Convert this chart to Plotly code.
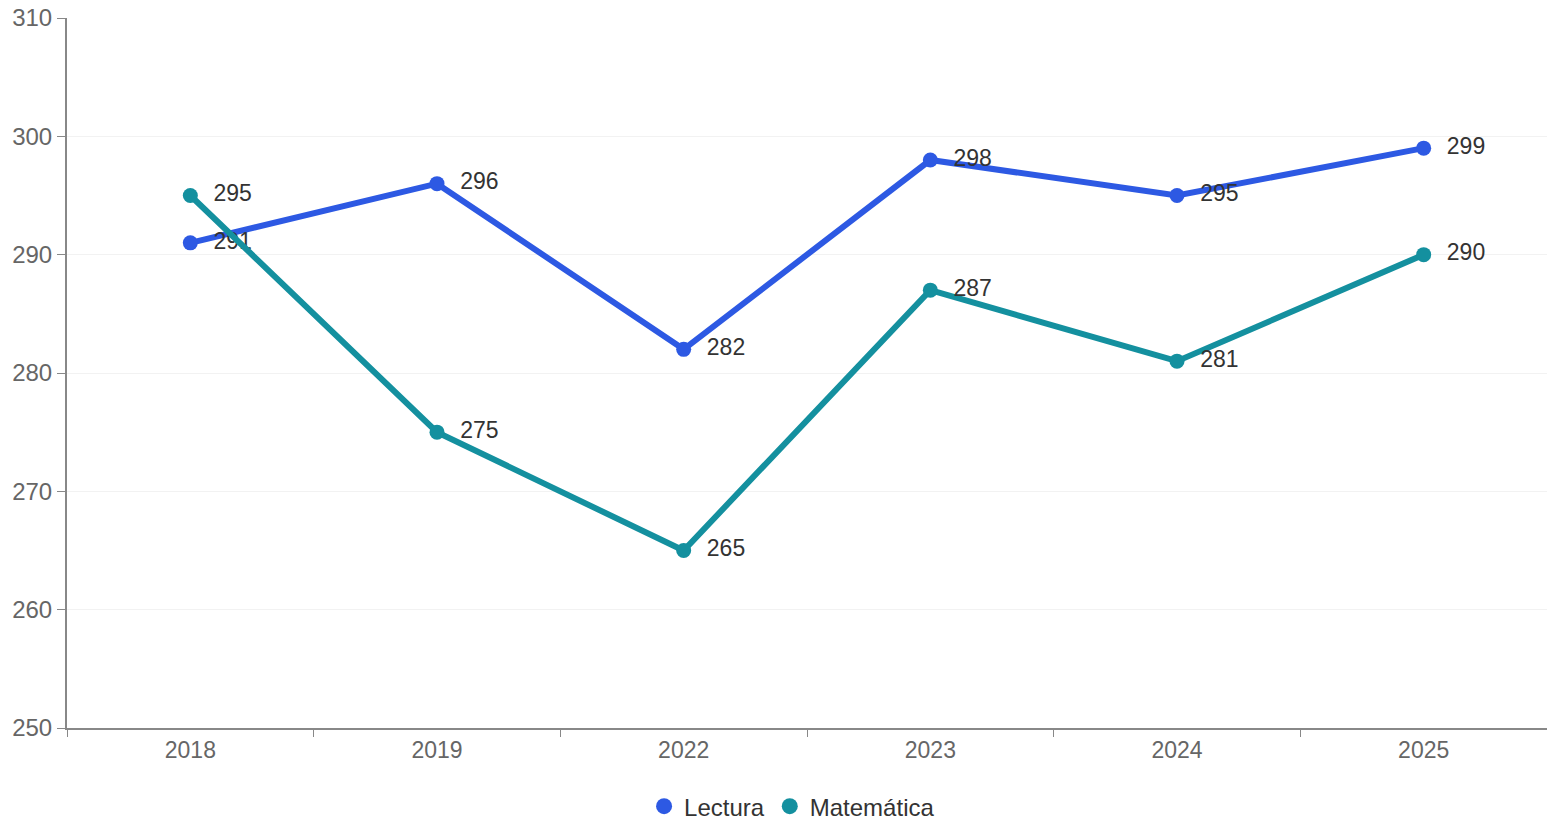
import plotly.graph_objects as go

years = ["2018", "2019", "2022", "2023", "2024", "2025"]
lectura = [291, 296, 282, 298, 295, 299]
matematica = [295, 275, 265, 287, 281, 290]
series_names = ["Lectura", "Matemática"]
colors = ["#2d59e3", "#14909f"]

FONT = "Liberation Sans, Arial"

fig = go.Figure()
for name, vals, col in zip(series_names, [lectura, matematica], colors):
    fig.add_trace(go.Scatter(
        x=years, y=vals, name=name, mode="lines+markers+text",
        line=dict(color=col, width=6),
        marker=dict(color=col, size=15),
        text=[f"  {v}" for v in vals], textposition="middle right",
        textfont=dict(family=FONT, size=23, color="#333333"),
        cliponaxis=False, showlegend=False,
    ))
# legend-only entries (circle symbol)
for name, col in zip(series_names, colors):
    fig.add_trace(go.Scatter(
        x=[None], y=[None], name=name, mode="markers",
        marker=dict(color=col, size=20), showlegend=True,
    ))

fig.update_layout(
    width=1547, height=823, autosize=False,
    margin=dict(l=67, r=0, t=18, b=95, autoexpand=False),
    paper_bgcolor="white", plot_bgcolor="white",
    font=dict(family=FONT, size=22, color="#666666"),
    legend=dict(orientation="h", x=0.512, xref="container", xanchor="center",
                y=0.02, yref="container", yanchor="middle",
                font=dict(size=24, color="#333333"), itemwidth=30, tracegroupgap=0,
                bgcolor="rgba(0,0,0,0)"),
    xaxis=dict(type="category", range=[-0.5, 5.5], showgrid=False,
               showline=True, linecolor="#888888", linewidth=2,
               ticks="outside", ticklen=7, tickcolor="#888888", tickson="boundaries",
               tickfont=dict(size=23, color="#666666")),
    yaxis=dict(range=[250, 310], dtick=10, showgrid=True, gridcolor="#f2f2f2",
               showline=True, linecolor="#888888", linewidth=2,
               ticks="outside", ticklen=8, tickcolor="#888888", zeroline=False,
               ticklabeloverflow="allow",
               tickfont=dict(size=24, color="#666666")),
)

fig.write_html(
    "out.html",
    config={"displayModeBar": False},
    post_script="document.body.style.margin='0';document.body.style.overflow='hidden';",
)
